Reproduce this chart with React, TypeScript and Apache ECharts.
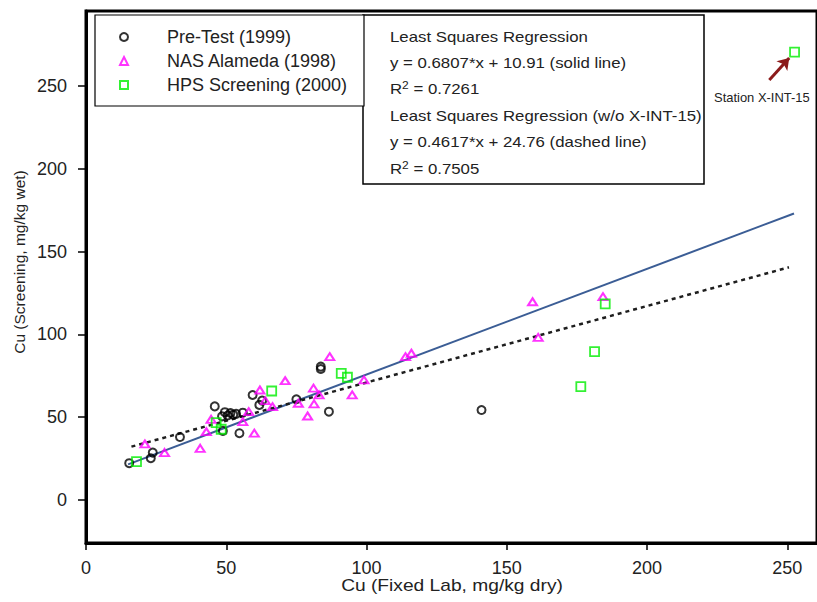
import React, { useEffect, useRef } from 'react';
import * as echarts from 'echarts';

// ---- data ----
const legendNames = ['Pre-Test (1999)', 'NAS Alameda (1998)', 'HPS Screening (2000)'];

const preTest1999: number[][] = [
  [15.4, 22.2], [23.1, 25.2], [23.8, 28.6], [33.5, 38.0], [45.9, 56.5],
  [48.8, 41.7], [48.5, 50.5], [49.5, 53.0], [50.5, 51.0], [51.5, 52.5],
  [52.5, 51.5], [53.5, 52.0], [54.7, 40.3], [55.9, 52.7], [59.4, 63.4],
  [61.8, 57.4], [62.8, 60.0], [75.0, 60.8], [83.7, 79.1], [83.7, 80.5],
  [86.6, 53.3], [141.0, 54.3],
];

const nasAlameda1998: number[][] = [
  [21.0, 33.8], [28.0, 28.6], [40.7, 31.2], [42.9, 41.2], [44.6, 48.7],
  [55.9, 47.3], [58.0, 53.3], [60.0, 40.3], [62.0, 66.4], [63.9, 60.0],
  [66.5, 56.3], [71.0, 72.0], [75.7, 58.4], [79.0, 50.7], [81.1, 67.5],
  [81.3, 58.0], [83.1, 63.4], [86.9, 86.5], [94.9, 63.4], [99.1, 72.5],
  [113.9, 86.5], [116.0, 88.6], [159.2, 119.7], [161.2, 98.2], [184.3, 122.8],
];

const hpsScreening2000: number[][] = [
  [18.0, 23.1], [46.4, 46.7], [48.2, 42.7], [66.2, 65.8], [91.0, 76.5],
  [93.2, 74.1], [176.4, 68.4], [181.3, 89.6], [185.1, 118.4], [252.6, 270.5],
];

const solidFitLine: number[][] = [[15.0, 21.5], [252.4, 173.0]];
const dashedFitLine: number[][] = [[16.2, 32.2], [250.6, 140.5]];
const stationArrow: number[][] = [[243.6, 253.6], [250.7, 266.9]];

const xTicks = [0, 50, 100, 150, 200, 250];
const yTicks = [0, 50, 100, 150, 200, 250];

const regressionText = [
  'Least Squares Regression',
  'y = 0.6807*x + 10.91 (solid line)',
  'R{sup|2} = 0.7261',
  'Least Squares Regression (w/o X-INT-15)',
  'y = 0.4617*x + 24.76 (dashed line)',
  'R{sup|2} = 0.7505',
];
const stationLabel = 'Station X-INT-15';
const xTitle = 'Cu (Fixed Lab, mg/kg dry)';
const yTitle = 'Cu (Screening, mg/kg wet)';

const FONT = '"Liberation Sans", Arial, Helvetica, sans-serif';

export default function App() {
  const ref = useRef<HTMLDivElement>(null);

  useEffect(() => {
    if (!ref.current) return;
    const chart = echarts.init(ref.current, undefined, { renderer: 'svg' });

    const lineYs = [37, 63, 89, 116, 142, 169];
    const boxTexts = regressionText.map((t, i) => ({
      type: 'text',
      x: 390,
      y: lineYs[i],
      scaleX: 1.2,
      z: 60,
      style: {
        text: t,
        fontFamily: FONT,
        fontSize: 14,
        lineHeight: 18,
        fill: '#222',
        align: 'left',
        verticalAlign: 'middle',
        rich: {
          sup: { fontSize: 10, lineHeight: 8, verticalAlign: 'top', fill: '#222', fontFamily: FONT },
        },
      },
    }));

    const option: any = {
      animation: false,
      backgroundColor: '#fff',
      textStyle: { fontFamily: FONT },
      grid: {
        left: 86, right: -4, top: 11, bottom: 59,
        show: true, borderColor: '#000', borderWidth: 3, containLabel: false,
      },
      xAxis: {
        type: 'value', min: 0, max: 260.6,
        axisLine: { show: true, onZero: false, lineStyle: { color: '#000', width: 3 } },
        axisTick: { show: true, length: 7, customValues: xTicks, lineStyle: { color: '#000', width: 1.5 } },
        axisLabel: { customValues: xTicks, fontSize: 18, color: '#222', margin: 16, fontFamily: FONT },
        splitLine: { show: false },
      },
      yAxis: {
        type: 'value', min: -26, max: 295.3,
        axisLine: { show: true, onZero: false, lineStyle: { color: '#000', width: 3 } },
        axisTick: { show: true, length: 8, customValues: yTicks, lineStyle: { color: '#000', width: 1.5 } },
        axisLabel: { customValues: yTicks, fontSize: 18, color: '#222', margin: 19, fontFamily: FONT },
        splitLine: { show: false },
      },
      legend: {
        data: legendNames,
        orient: 'vertical',
        left: 95, top: 15,
        padding: [12, 8, 11, 24],
        itemWidth: 8, itemHeight: 8, itemGap: 4,
        borderColor: '#000', borderWidth: 1.2, backgroundColor: '#fff',
        selectedMode: false,
        textStyle: { fontSize: 18, color: '#222', fontFamily: FONT, lineHeight: 20, width: 189, padding: [0, 0, 0, 34] },
        z: 60,
      },
      graphic: [
        {
          type: 'rect', z: 55,
          shape: { x: 363, y: 15, width: 341, height: 169 },
          style: { fill: '#fff', stroke: '#000', lineWidth: 1.5 },
        },
        ...boxTexts,
        {
          type: 'text', x: 714, y: 98, scaleX: 1.08, z: 60,
          style: { text: stationLabel, fontFamily: FONT, fontSize: 12, fill: '#222', align: 'left', verticalAlign: 'middle' },
        },
        {
          type: 'text', x: 452, y: 586, scaleX: 1.2, z: 60,
          style: { text: xTitle, fontFamily: FONT, fontSize: 16, fill: '#222', align: 'center', verticalAlign: 'middle' },
        },
        {
          type: 'text', x: 19, y: 262, rotation: Math.PI / 2, z: 60,
          style: { text: yTitle, fontFamily: FONT, fontSize: 15.5, fill: '#222', align: 'center', verticalAlign: 'middle' },
        },
      ],
      series: [
        {
          name: 'solid fit', type: 'line', data: solidFitLine, symbol: 'none', silent: true, z: 3,
          lineStyle: { color: '#3b5d95', width: 2 },
        },
        {
          name: 'dashed fit', type: 'line', data: dashedFitLine, symbol: 'none', silent: true, z: 3,
          lineStyle: { color: '#1e1e1e', width: 2.5, type: [4, 4] },
        },
        {
          name: legendNames[0], type: 'scatter', data: preTest1999, symbol: 'circle', symbolSize: 8, z: 5,
          itemStyle: { color: 'rgba(255,255,255,0)', borderColor: '#000', borderWidth: 2 },
        },
        {
          name: legendNames[1], type: 'scatter', data: nasAlameda1998, symbol: 'triangle', symbolSize: [9, 7], z: 5,
          itemStyle: { color: 'rgba(255,255,255,0)', borderColor: '#ff00ff', borderWidth: 2 },
        },
        {
          name: legendNames[2], type: 'scatter', data: hpsScreening2000, symbol: 'rect', symbolSize: 9, z: 5,
          itemStyle: { color: 'rgba(255,255,255,0)', borderColor: '#00ee00', borderWidth: 1.8 },
          markLine: {
            silent: true,
            symbol: ['none', 'arrow'],
            symbolSize: 11,
            label: { show: false },
            lineStyle: { color: '#8b1a1a', width: 3, type: 'solid' },
            data: [[{ coord: stationArrow[0] }, { coord: stationArrow[1] }]],
          },
        },
      ],
    };

    chart.setOption(option);
    return () => chart.dispose();
  }, []);

  return <div ref={ref} style={{ position: 'absolute', left: 0, top: 0, width: 817, height: 602 }} />;
}
